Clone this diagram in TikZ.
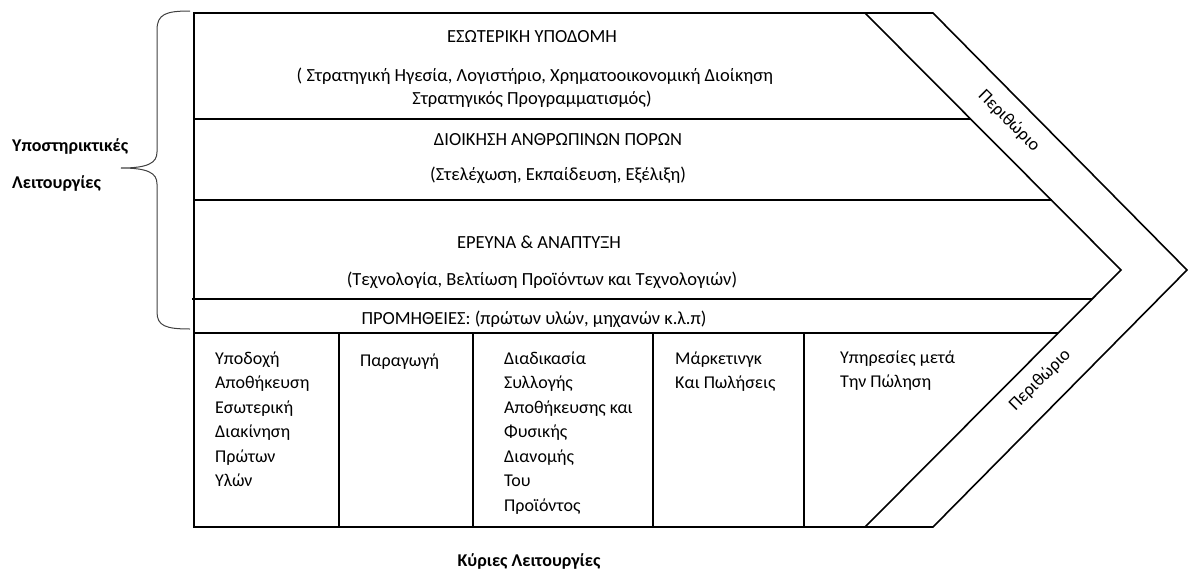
\documentclass[tikz,border=0pt]{standalone}
\usepackage{fontspec}
\setmainfont{Carlito}
\begin{document}
\begin{tikzpicture}[x=1pt,y=-1pt,
  frame/.style={line width=1.6pt,line join=miter},
  rowtext/.style={anchor=base,inner sep=0pt,font=\fontsize{18.5}{22}\selectfont},
  coltext/.style={anchor=base west,inner sep=0pt,font=\fontsize{18}{22}\selectfont},
  label/.style={anchor=base west,inner sep=0pt,font=\fontsize{18}{22}\selectfont\bfseries},
  margintext/.style={inner sep=0pt,font=\fontsize{18}{22}\selectfont}]
\useasboundingbox (0,0) rectangle (1188,570);

% chevron corners
\coordinate (tl) at (194,13);
\coordinate (bl) at (194,527);
\coordinate (itop) at (865,13);
\coordinate (itip) at (1121,270);
\coordinate (ibot) at (865,527);
\coordinate (otop) at (933,13);
\coordinate (otip) at (1187,270);
\coordinate (obot) at (933,527);

% outline of the value chain
\draw[frame] (otop) -- (tl) -- (bl) -- (obot) -- (otip) -- cycle;
\draw[frame] (itop) -- (itip) -- (ibot);

% support activity rows
\draw[frame] (194,119) -- (971,119);
\draw[frame] (194,200) -- (1052,200);
\draw[frame] (192,299) -- (1092,299);
\draw[frame] (194,333) -- (1058,333);

% primary activity columns
\foreach \x in {339,473,653,804}
  \draw[frame] (\x,333) -- (\x,527);

% brace for the support activities
\draw[line width=1pt,black!75] (190,11) .. controls (166,11) and (157,14) .. (157,30)
  -- (157,152) .. controls (157,163) and (148,168) .. (121,168)
  .. controls (148,168) and (157,173) .. (157,184)
  -- (157,312) .. controls (157,326) and (166,329) .. (190,329);

% row texts
\node[rowtext] (infra) at (532,42) {ΕΣΩΤΕΡΙΚΗ ΥΠΟΔΟΜΗ};
\node[rowtext] (infra1) at (535,81) {( Στρατηγική Ηγεσία, Λογιστήριο, Χρηματοοικονομική Διοίκηση};
\node[rowtext] (infra2) at (532,104) {Στρατηγικός Προγραμματισμός)};
\node[rowtext] (hr) at (558,145) {ΔΙΟΙΚΗΣΗ ΑΝΘΡΩΠΙΝΩΝ ΠΟΡΩΝ};
\node[rowtext] (hr1) at (558,180) {(Στελέχωση, Εκπαίδευση, Εξέλιξη)};
\node[rowtext] (rd) at (539,248) {ΕΡΕΥΝΑ \& ΑΝΑΠΤΥΞΗ};
\node[rowtext] (rd1) at (542,285) {(Τεχνολογία, Βελτίωση Προϊόντων και Τεχνολογιών)};
\node[rowtext] (proc) at (534,324) {ΠΡΟΜΗΘΕΙΕΣ: (πρώτων υλών, μηχανών κ.λ.π)};

% column texts
\foreach \t [count=\i] in {Υποδοχή,Αποθήκευση,Εσωτερική,Διακίνηση,Πρώτων,Υλών}
  \node[coltext] (inb-\i) at (215,{364+24.5*(\i-1)}) {\t};
\node[coltext] (ops) at (360,366) {Παραγωγή};
\foreach \t [count=\i] in {Διαδικασία,Συλλογής,Αποθήκευσης και,Φυσικής,Διανομής,Του,Προϊόντος}
  \node[coltext] (outb-\i) at (504,{364+24.5*(\i-1)}) {\t};
\node[coltext] (mkt-1) at (675,364) {Μάρκετινγκ};
\node[coltext] (mkt-2) at (675,388.5) {Και Πωλήσεις};
\node[coltext] (srv-1) at (840,363) {Υπηρεσίες μετά};
\node[coltext] (srv-2) at (840,387.5) {Την Πώληση};

% margin labels
\node[margintext,rotate=-45] (marg-up) at (1009,121) {Περιθώριο};
\node[margintext,rotate=45] (marg-dn) at (1040,380) {Περιθώριο};

% group labels
\node[label] (sup-1) at (12,151) {Υποστηρικτικές};
\node[label] (sup-2) at (12,188) {Λειτουργίες};
\node[label,anchor=base] (prim) at (529,566) {Κύριες Λειτουργίες};
\end{tikzpicture}
\end{document}
